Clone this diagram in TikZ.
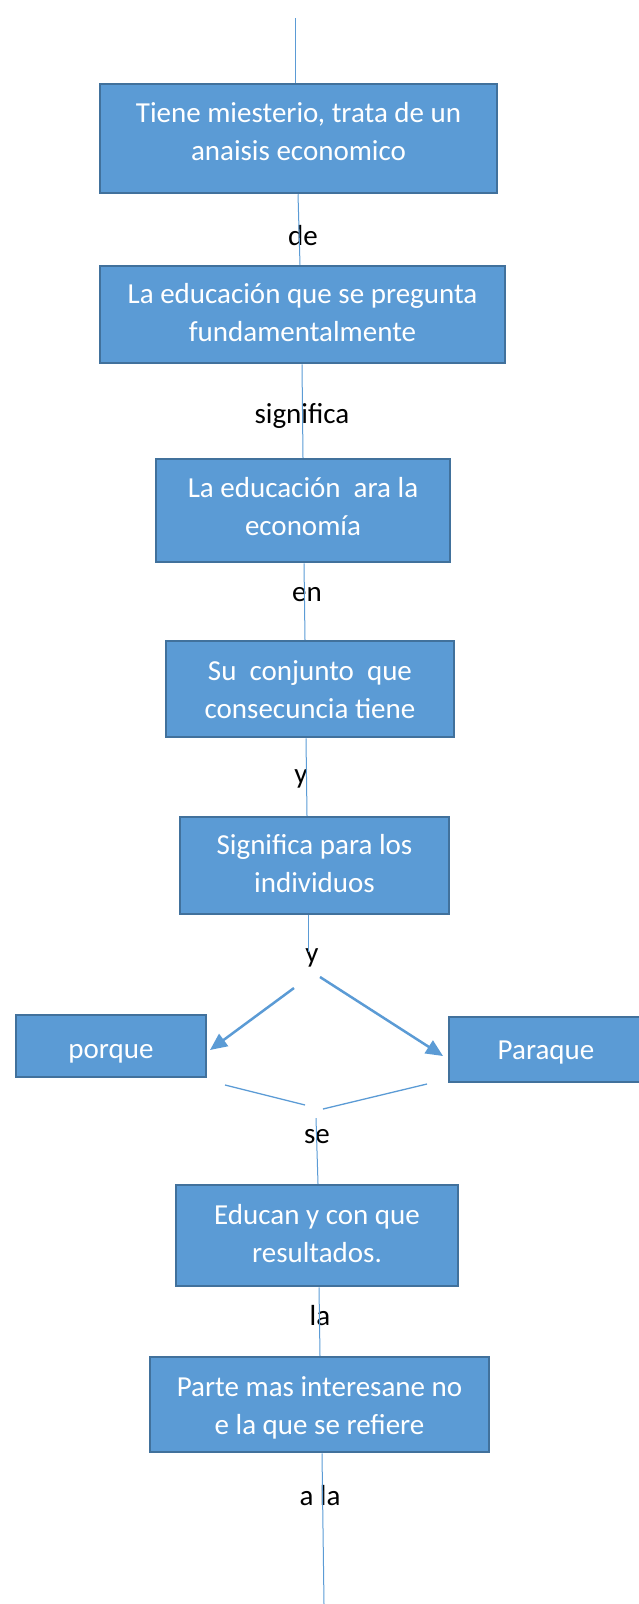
\documentclass[tikz,border=0pt]{standalone}
\usepackage{fontspec}
\setmainfont{Carlito}
\usetikzlibrary{arrows.meta}
\definecolor{boxfill}{HTML}{5B9BD5}
\definecolor{boxline}{HTML}{41719C}
\definecolor{connc}{HTML}{5B9BD5}
\newcommand{\boxup}[2]{\raisebox{#1}[\height][\depth]{\begin{tabular}{@{}c@{}}#2\end{tabular}}}
\begin{document}
\begin{tikzpicture}[x=1pt,y=-1pt,
  box/.style={draw=boxline, line width=2.5pt, fill=boxfill, text=white, align=center,
    font=\fontsize{29}{38}\selectfont, inner sep=0pt},
  lbl/.style={text=black, font=\fontsize{29}{38}\selectfont, inner sep=1pt},
  link/.style={draw=connc, line width=1pt},
  arr/.style={draw=connc, line width=2.5pt, -{Triangle[length=17pt,width=15pt]}},
  fine/.style={draw=connc, line width=1.3pt}]
\useasboundingbox (0,0) rectangle (639,1604);
% boxes
\node[box, minimum width=397pt, minimum height=109pt] (b1) at (298.5,138.5) {\boxup{5pt}{Tiene miesterio, trata de un\\anaisis economico}};
\node[box, minimum width=405pt, minimum height=97pt] (b2) at (302.5,314.5) {\boxup{0pt}{La educación que se pregunta\\fundamentalmente}};
\node[box, minimum width=294pt, minimum height=103pt] (b3) at (303,510.5) {\boxup{2pt}{La educación\ \ ara la\\economía}};
\node[box, minimum width=288pt, minimum height=96pt] (b4) at (310,689) {\boxup{-3pt}{Su\ \ conjunto\ \ que\\consecuncia tiene}};
\node[box, minimum width=269pt, minimum height=97pt] (b5) at (314.5,865.5) {\boxup{0pt}{Significa para los\\individuos}};
\node[box, minimum width=190pt, minimum height=62pt] (por) at (111,1046) {\boxup{-5pt}{porque}};
\node[box, minimum width=194pt, minimum height=65pt] (para) at (546,1049.5) {\boxup{-2pt}{Paraque}};
\node[box, minimum width=282pt, minimum height=101pt] (b6) at (317,1235.5) {\boxup{0pt}{Educan y con que\\resultados.}};
\node[box, minimum width=339pt, minimum height=95pt] (b7) at (319.5,1404.5) {\boxup{-3pt}{Parte mas interesane no\\e la que se refiere}};
% labels
\node[lbl] (l1) at (303,236) {de};
\node[lbl] (l2) at (302,416) {significa};
\node[lbl] (l3) at (307,595) {en};
\node[lbl] (l4) at (301,779) {y};
\node[lbl] (l5) at (312,958) {y};
\node[lbl] (l6) at (317,1137) {se};
\node[lbl] (l7) at (320,1316) {la};
\node[lbl] (l8) at (320,1496) {a la};
% helper coordinates
\coordinate (top) at (295,18);
\coordinate (x1) at (298,0);
\coordinate (x2) at (300,0);
\coordinate (x3) at (302,0);
\coordinate (x4) at (303,0);
\coordinate (x5) at (304,0);
\coordinate (x6) at (305,0);
\coordinate (x7) at (306,0);
\coordinate (x8) at (307,0);
\coordinate (x9) at (308,0);
\coordinate (y5e) at (308,952);
\coordinate (sestart) at (316,1118);
\coordinate (x10) at (318,0);
\coordinate (x11) at (319,0);
\coordinate (x12) at (320,0);
\coordinate (x13) at (322,0);
\coordinate (bot) at (324,1604);
\coordinate (al) at (294,988);
\coordinate (ar) at (320,977);
\coordinate (alt) at (210,1050);
\coordinate (art) at (443,1056);
\coordinate (f1a) at (225,1085);
\coordinate (f1b) at (305,1105);
\coordinate (f2a) at (323,1109);
\coordinate (f2b) at (427,1084);
% connectors
\draw[link] (top) -- (b1.north -| top);
\draw[link] (b1.south -| x1) -- (b2.north -| x2);
\draw[link] (b2.south -| x3) -- (b3.north -| x4);
\draw[link] (b3.south -| x5) -- (b4.north -| x6);
\draw[link] (b4.south -| x7) -- (b5.north -| x8);
\draw[link] (b5.south -| x9) -- (y5e);
\draw[arr] (al) -- (alt);
\draw[arr] (ar) -- (art);
\draw[fine] (f1a) -- (f1b);
\draw[fine] (f2a) -- (f2b);
\draw[link] (sestart) -- (b6.north -| x10);
\draw[link] (b6.south -| x11) -- (b7.north -| x12);
\draw[link] (b7.south -| x13) -- (bot);
\end{tikzpicture}
\end{document}
